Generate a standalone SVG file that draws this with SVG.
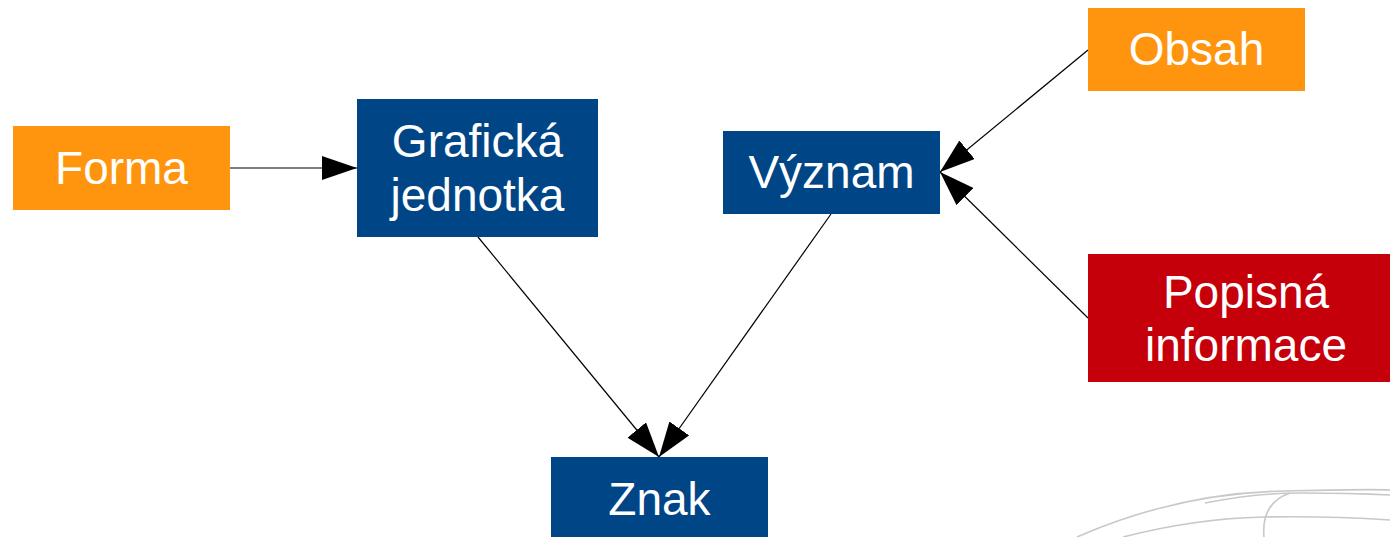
<svg xmlns="http://www.w3.org/2000/svg" width="1390" height="537" viewBox="0 0 1390 537">
<defs>
<style>
.box text{font-family:"Liberation Sans",Arial,sans-serif;font-size:46px;fill:#fff;text-anchor:middle}
.orange{fill:#ff950e}
.blue{fill:#004586}
.red{fill:#c5000b}
.conn line{stroke:#000;stroke-width:1.2;marker-end:url(#ah)}
.sketch path{fill:none;stroke:#c8c8c8;stroke-width:1.6}
</style>
<marker id="ah" markerUnits="userSpaceOnUse" markerWidth="36" markerHeight="24" viewBox="0 0 36 24" refX="35" refY="12" orient="auto">
<path d="M0,0 L35,12 L0,24 Z" fill="#000"/>
</marker>
</defs>
<rect width="1390" height="537" fill="#fff"/>
<g class="sketch">
<path d="M1077,537 C1150,505 1220,492 1285,491 C1330,490 1370,489 1390,490"/>
<path d="M1123,537 C1170,525 1220,518 1263,517 C1320,516 1360,518 1390,520"/>
<path d="M1205,503 C1240,496 1270,493 1300,493 C1340,493 1370,494 1390,495"/>
<path d="M1290,493 C1270,500 1262,515 1264,537"/>
</g>
<g class="conn">
<line x1="230" y1="168" x2="357" y2="168"/>
<line x1="478" y1="237" x2="659" y2="457"/>
<line x1="831" y1="214" x2="659" y2="457"/>
<line x1="1088" y1="50" x2="940" y2="172"/>
<line x1="1088" y1="318" x2="940" y2="172"/>
</g>
<g id="forma" class="box"><rect class="orange" x="13" y="126" width="217" height="84"/><text x="121.5" y="184">Forma</text></g>
<g id="graficka" class="box"><rect class="blue" x="357" y="99" width="241" height="138"/><text x="477.5" y="157">Grafická</text><text x="477.5" y="211">jednotka</text></g>
<g id="vyznam" class="box"><rect class="blue" x="723" y="131" width="217" height="83"/><text x="831.5" y="188">Význam</text></g>
<g id="obsah" class="box"><rect class="orange" x="1088" y="8" width="217" height="83"/><text x="1196.5" y="65">Obsah</text></g>
<g id="popisna" class="box"><rect class="red" x="1088" y="254" width="317" height="128"/><text x="1246" y="308">Popisná</text><text x="1246" y="361">informace</text></g>
<g id="znak" class="box"><rect class="blue" x="551" y="457" width="217" height="84"/><text x="659.5" y="515">Znak</text></g>
</svg>
